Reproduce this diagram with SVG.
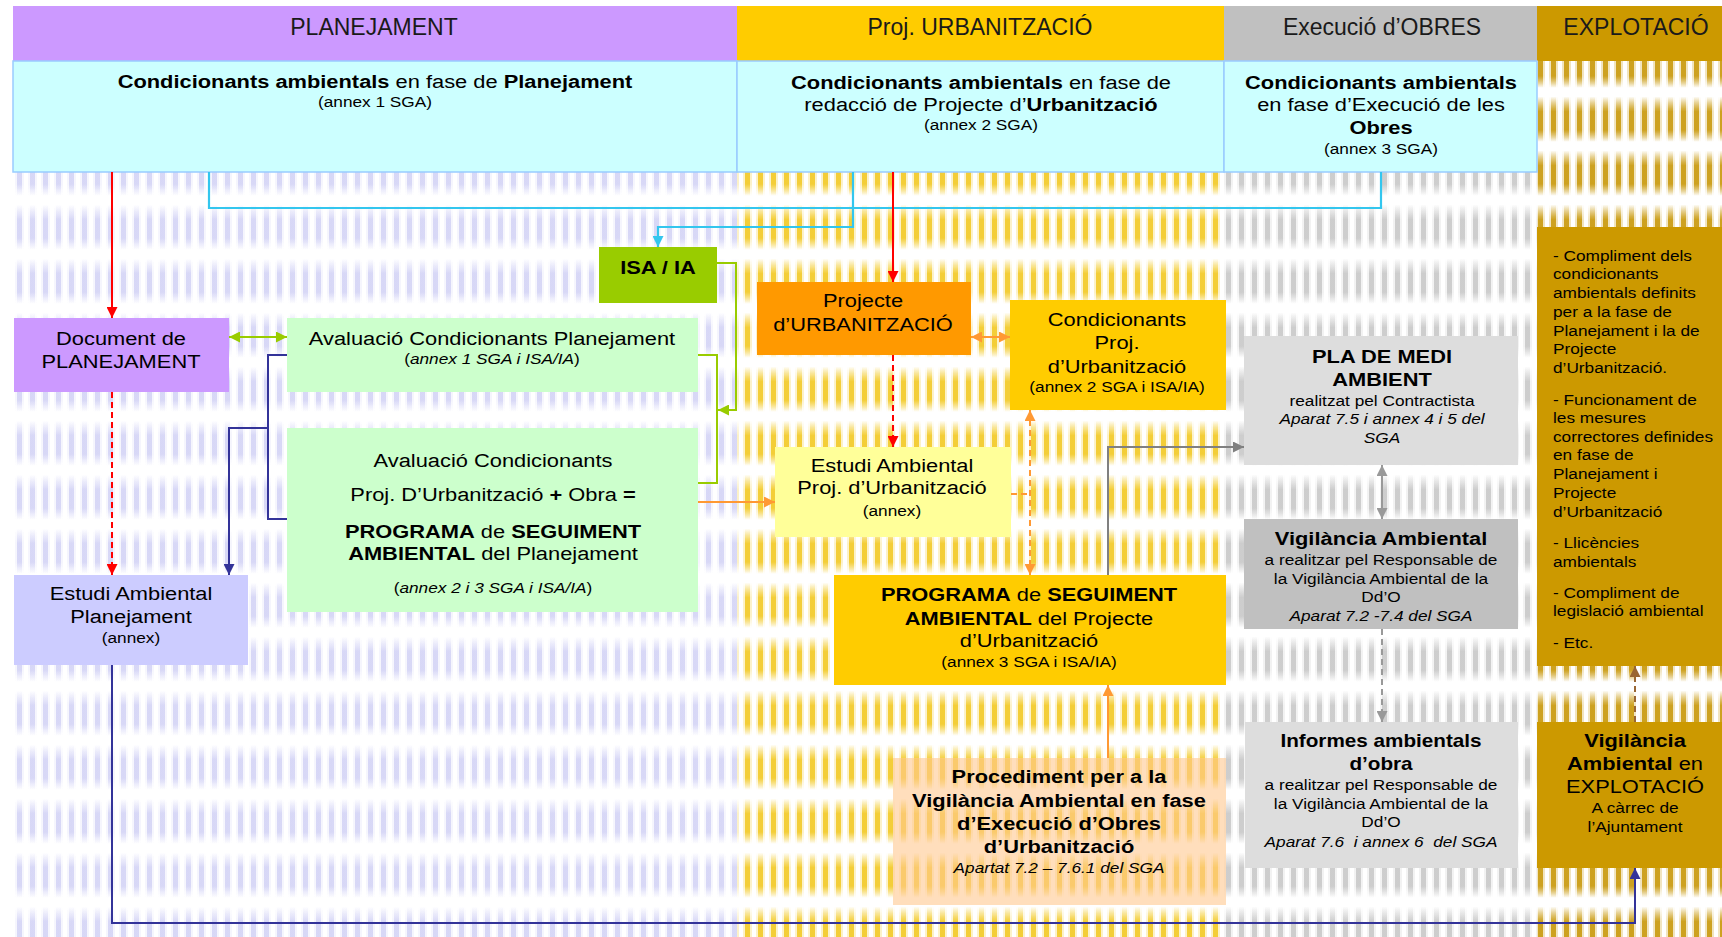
<svg xmlns="http://www.w3.org/2000/svg" width="1722" height="937" viewBox="0 0 1722 937">
<defs>
<style>
.t{font-family:"Liberation Sans",Arial,Helvetica,sans-serif;fill:#000}
.h{font-size:23px;text-anchor:middle;fill:#1a1a1a}
.m{text-anchor:middle}
.b{font-weight:bold}
.i{font-style:italic}
.f19{font-size:19px}
.f15{font-size:15px}
.lb{fill:#ccffff;stroke:#99ccff;stroke-width:1.5}
.ln{fill:none;stroke-width:2}
.red{stroke:#ff0000}
.cy{stroke:#33c6ee;stroke-width:2.2}
.gr{stroke:#99cc00}
.nv{stroke:#333399}
.or{stroke:#ff9933}
.gy{stroke:#808080}
.lg{stroke:#999999}
.br{stroke:#996633}
.dash{stroke-dasharray:6 4}
</style>
<linearGradient id="gLav" x1="0" y1="0" x2="0" y2="1"><stop offset="0.12" stop-color="#b0b0ee" stop-opacity="0"/><stop offset="0.4" stop-color="#b0b0ee" stop-opacity="0.42"/><stop offset="0.74" stop-color="#b0b0ee" stop-opacity="0.42"/><stop offset="0.96" stop-color="#b0b0ee" stop-opacity="0"/></linearGradient>
<linearGradient id="gYel" x1="0" y1="0" x2="0" y2="1"><stop offset="0.12" stop-color="#f0c000" stop-opacity="0"/><stop offset="0.4" stop-color="#f0c000" stop-opacity="0.72"/><stop offset="0.74" stop-color="#f0c000" stop-opacity="0.72"/><stop offset="0.96" stop-color="#f0c000" stop-opacity="0"/></linearGradient>
<linearGradient id="gGry" x1="0" y1="0" x2="0" y2="1"><stop offset="0.12" stop-color="#a8a8a8" stop-opacity="0"/><stop offset="0.4" stop-color="#a8a8a8" stop-opacity="0.5"/><stop offset="0.74" stop-color="#a8a8a8" stop-opacity="0.5"/><stop offset="0.96" stop-color="#a8a8a8" stop-opacity="0"/></linearGradient>
<linearGradient id="gGld" x1="0" y1="0" x2="0" y2="1"><stop offset="0.12" stop-color="#c8980a" stop-opacity="0"/><stop offset="0.4" stop-color="#c8980a" stop-opacity="0.88"/><stop offset="0.74" stop-color="#c8980a" stop-opacity="0.88"/><stop offset="0.96" stop-color="#c8980a" stop-opacity="0"/></linearGradient>
<pattern id="pLav" x="13" y="36" width="13" height="54" patternUnits="userSpaceOnUse"><rect x="2" y="0" width="9" height="54" fill="url(#gLav)" opacity="0.3"/><rect x="4" y="0" width="5" height="54" fill="url(#gLav)"/></pattern>
<pattern id="pYel" x="13" y="36" width="13" height="54" patternUnits="userSpaceOnUse"><rect x="2" y="0" width="9" height="54" fill="url(#gYel)" opacity="0.3"/><rect x="4" y="0" width="5" height="54" fill="url(#gYel)"/></pattern>
<pattern id="pGry" x="13" y="36" width="13" height="54" patternUnits="userSpaceOnUse"><rect x="2" y="0" width="9" height="54" fill="url(#gGry)" opacity="0.3"/><rect x="4" y="0" width="5" height="54" fill="url(#gGry)"/></pattern>
<pattern id="pGld" x="13" y="36" width="13" height="54" patternUnits="userSpaceOnUse"><rect x="2" y="0" width="9" height="54" fill="url(#gGld)" opacity="0.3"/><rect x="4" y="0" width="5" height="54" fill="url(#gGld)"/></pattern>
<marker id="aRed" viewBox="0 0 10 10" refX="10" refY="5" markerWidth="12" markerHeight="11" markerUnits="userSpaceOnUse" orient="auto-start-reverse"><path d="M0,0 L10,5 L0,10 z" fill="#ff0000"/></marker>
<marker id="aCy" viewBox="0 0 10 10" refX="10" refY="5" markerWidth="12" markerHeight="11" markerUnits="userSpaceOnUse" orient="auto-start-reverse"><path d="M0,0 L10,5 L0,10 z" fill="#33c6ee"/></marker>
<marker id="aGr" viewBox="0 0 10 10" refX="10" refY="5" markerWidth="12" markerHeight="11" markerUnits="userSpaceOnUse" orient="auto-start-reverse"><path d="M0,0 L10,5 L0,10 z" fill="#99cc00"/></marker>
<marker id="aNv" viewBox="0 0 10 10" refX="10" refY="5" markerWidth="12" markerHeight="11" markerUnits="userSpaceOnUse" orient="auto-start-reverse"><path d="M0,0 L10,5 L0,10 z" fill="#333399"/></marker>
<marker id="aOr" viewBox="0 0 10 10" refX="10" refY="5" markerWidth="12" markerHeight="11" markerUnits="userSpaceOnUse" orient="auto-start-reverse"><path d="M0,0 L10,5 L0,10 z" fill="#ff9933"/></marker>
<marker id="aGy" viewBox="0 0 10 10" refX="10" refY="5" markerWidth="12" markerHeight="11" markerUnits="userSpaceOnUse" orient="auto-start-reverse"><path d="M0,0 L10,5 L0,10 z" fill="#808080"/></marker>
<marker id="aLg" viewBox="0 0 10 10" refX="10" refY="5" markerWidth="12" markerHeight="11" markerUnits="userSpaceOnUse" orient="auto-start-reverse"><path d="M0,0 L10,5 L0,10 z" fill="#999999"/></marker>
<marker id="aBr" viewBox="0 0 10 10" refX="10" refY="5" markerWidth="12" markerHeight="11" markerUnits="userSpaceOnUse" orient="auto-start-reverse"><path d="M0,0 L10,5 L0,10 z" fill="#996633"/></marker>
</defs>

<rect x="0" y="0" width="1722" height="937" fill="#ffffff"/>
<g id="background">
<rect x="13" y="61" width="724" height="876" fill="url(#pLav)"/>
<rect x="737" y="61" width="487" height="876" fill="url(#pYel)"/>
<rect x="1224" y="61" width="313" height="876" fill="url(#pGry)"/>
<rect x="1537" y="61" width="185" height="876" fill="url(#pGld)"/>
</g>

<g id="headers">
<rect x="13" y="6" width="724" height="55" fill="#cc99ff"/>
<rect x="737" y="6" width="487" height="55" fill="#ffcc00"/>
<rect x="1224" y="6" width="313" height="55" fill="#c0c0c0"/>
<rect x="1537" y="6" width="185" height="55" fill="#cc9900"/>
<text class="t h" x="374" y="35">PLANEJAMENT</text>
<text class="t h" x="980" y="35">Proj. URBANITZACIÓ</text>
<text class="t h" x="1382" y="35">Execució d’OBRES</text>
<text class="t h" x="1636" y="35">EXPLOTACIÓ</text>
</g>

<g id="cond-plan">
<rect class="lb" x="13" y="61" width="724" height="111"/>
<text class="t m" transform="matrix(1.15 0 0 1 375 0)"><tspan class="f19" x="0" y="88"><tspan class="b">Condicionants ambientals</tspan> en fase de <tspan class="b">Planejament</tspan></tspan><tspan class="f15" x="0" y="107">(annex 1 SGA)</tspan></text>
</g>
<g id="cond-urb">
<rect class="lb" x="737" y="61" width="487" height="111"/>
<text class="t m" transform="matrix(1.15 0 0 1 981 0)"><tspan class="f19" x="0" y="89"><tspan class="b">Condicionants ambientals</tspan> en fase de</tspan><tspan class="f19" x="0" y="111">redacció de Projecte d’<tspan class="b">Urbanització</tspan></tspan><tspan class="f15" x="0" y="130">(annex 2 SGA)</tspan></text>
</g>
<g id="cond-obres">
<rect class="lb" x="1224" y="61" width="313" height="111"/>
<text class="t m" transform="matrix(1.15 0 0 1 1381 0)"><tspan class="f19 b" x="0" y="89">Condicionants ambientals</tspan><tspan class="f19" x="0" y="111">en fase d’Execució de les</tspan><tspan class="f19 b" x="0" y="134">Obres</tspan><tspan class="f15" x="0" y="154">(annex 3 SGA)</tspan></text>
</g>

<g id="connectors">
<polyline class="ln cy" points="209,172 209,208 1381,208 1381,172"/>
<polyline class="ln cy" points="853,172 853,227 658,227 658,247" marker-end="url(#aCy)"/>
<line class="ln red" x1="112" y1="172" x2="112" y2="318" marker-end="url(#aRed)"/>
<line class="ln red dash" x1="112" y1="392" x2="112" y2="575" marker-end="url(#aRed)"/>
<line class="ln red" x1="893" y1="172" x2="893" y2="282" marker-end="url(#aRed)"/>
<line class="ln red dash" x1="893" y1="355" x2="893" y2="447" marker-end="url(#aRed)"/>
<line class="ln gr" x1="229" y1="337" x2="287" y2="337" marker-start="url(#aGr)" marker-end="url(#aGr)"/>
<polyline class="ln gr" points="698,355 717,355 717,483 698,483"/>
<polyline class="ln gr" points="717,263 736,263 736,410 718,410" marker-end="url(#aGr)"/>
<polyline class="ln nv" points="287,355 268,355 268,519 287,519"/>
<polyline class="ln nv" points="268,428 229,428 229,575" marker-end="url(#aNv)"/>
<polyline class="ln nv" points="112,665 112,923 1635,923 1635,868" marker-end="url(#aNv)"/>
<line class="ln or" x1="698" y1="502" x2="775" y2="502" marker-end="url(#aOr)"/>
<line class="ln or" x1="971" y1="337" x2="1010" y2="337" marker-start="url(#aOr)" marker-end="url(#aOr)"/>
<line class="ln or dash" x1="1030" y1="410" x2="1030" y2="575" marker-start="url(#aOr)" marker-end="url(#aOr)"/>
<line class="ln or dash" x1="1011" y1="494" x2="1030" y2="494"/>
<line class="ln or" x1="1108" y1="758" x2="1108" y2="685" marker-end="url(#aOr)"/>
<polyline class="ln gy" points="1108,575 1108,447 1244,447" marker-end="url(#aGy)"/>
<line class="ln lg" x1="1382" y1="465" x2="1382" y2="519" marker-start="url(#aLg)" marker-end="url(#aLg)"/>
<line class="ln lg dash" x1="1382" y1="629" x2="1382" y2="722" marker-end="url(#aLg)"/>
<line class="ln br dash" x1="1635" y1="722" x2="1635" y2="666" marker-end="url(#aBr)"/>
</g>

<g id="isa">
<rect x="599" y="247" width="118" height="56" fill="#99cc00"/>
<text class="t m b f19" transform="matrix(1.15 0 0 1 658 0)" x="0" y="274">ISA / IA</text>
</g>
<g id="doc-plan">
<rect x="14" y="318" width="215" height="74" fill="#cc99ff"/>
<text class="t m f19" transform="matrix(1.15 0 0 1 121 0)"><tspan x="0" y="345">Document de</tspan><tspan x="0" y="368">PLANEJAMENT</tspan></text>
</g>
<g id="aval-plan">
<rect x="287" y="318" width="411" height="74" fill="#ccffcc"/>
<text class="t m" transform="matrix(1.15 0 0 1 492 0)"><tspan class="f19" x="0" y="345">Avaluació Condicionants Planejament</tspan><tspan class="f15" x="0" y="364">(<tspan class="i">annex 1 SGA i ISA/IA</tspan>)</tspan></text>
</g>
<g id="aval-urb">
<rect x="287" y="428" width="411" height="184" fill="#ccffcc"/>
<text class="t m" transform="matrix(1.15 0 0 1 493 0)"><tspan class="f19" x="0" y="467">Avaluació Condicionants</tspan><tspan class="f19" x="0" y="501">Proj. D’Urbanització <tspan class="b">+</tspan> Obra <tspan class="b">=</tspan></tspan><tspan class="f19" x="0" y="538"><tspan class="b">PROGRAMA</tspan> de <tspan class="b">SEGUIMENT</tspan></tspan><tspan class="f19" x="0" y="560"><tspan class="b">AMBIENTAL</tspan> del Planejament</tspan><tspan class="f15" x="0" y="593">(<tspan class="i">annex 2 i 3 SGA i ISA/IA</tspan>)</tspan></text>
</g>
<g id="estudi-plan">
<rect x="14" y="575" width="234" height="90" fill="#ccccff"/>
<text class="t m" transform="matrix(1.15 0 0 1 131 0)"><tspan class="f19" x="0" y="600">Estudi Ambiental</tspan><tspan class="f19" x="0" y="623">Planejament</tspan><tspan class="f15" x="0" y="643">(annex)</tspan></text>
</g>
<g id="proj-urb">
<rect x="757" y="282" width="214" height="73" fill="#ff9900"/>
<text class="t m f19" transform="matrix(1.15 0 0 1 863 0)"><tspan x="0" y="307">Projecte</tspan><tspan x="0" y="331">d’URBANITZACIÓ</tspan></text>
</g>
<g id="cond-proj">
<rect x="1010" y="300" width="216" height="110" fill="#ffcc00"/>
<text class="t m" transform="matrix(1.15 0 0 1 1117 0)"><tspan class="f19" x="0" y="326">Condicionants</tspan><tspan class="f19" x="0" y="349">Proj.</tspan><tspan class="f19" x="0" y="373">d’Urbanització</tspan><tspan class="f15" x="0" y="392">(annex 2 SGA i ISA/IA)</tspan></text>
</g>
<g id="estudi-proj">
<rect x="775" y="447" width="236" height="90" fill="#ffff99"/>
<text class="t m" transform="matrix(1.15 0 0 1 892 0)"><tspan class="f19" x="0" y="472">Estudi Ambiental</tspan><tspan class="f19" x="0" y="494">Proj. d’Urbanització</tspan><tspan class="f15" x="0" y="516">(annex)</tspan></text>
</g>
<g id="psa-urb">
<rect x="834" y="575" width="392" height="110" fill="#ffcc00"/>
<text class="t m" transform="matrix(1.15 0 0 1 1029 0)"><tspan class="f19" x="0" y="601"><tspan class="b">PROGRAMA</tspan> de <tspan class="b">SEGUIMENT</tspan></tspan><tspan class="f19" x="0" y="625"><tspan class="b">AMBIENTAL</tspan> del Projecte</tspan><tspan class="f19" x="0" y="647">d’Urbanització</tspan><tspan class="f15" x="0" y="667">(annex 3 SGA i ISA/IA)</tspan></text>
</g>
<g id="procediment">
<rect x="893" y="758" width="333" height="147" fill="#ffc890" fill-opacity="0.6"/>
<text class="t m" transform="matrix(1.15 0 0 1 1059 0)"><tspan class="f19 b" x="0" y="783">Procediment per a la</tspan><tspan class="f19 b" x="0" y="807">Vigilància Ambiental en fase</tspan><tspan class="f19 b" x="0" y="830">d’Execució d’Obres</tspan><tspan class="f19 b" x="0" y="853">d’Urbanització</tspan><tspan class="f15 i" x="0" y="873">Apartat 7.2 – 7.6.1 del SGA</tspan></text>
</g>
<g id="pla-medi">
<rect x="1244" y="336" width="274" height="129" fill="#dddddd"/>
<text class="t m" transform="matrix(1.15 0 0 1 1382 0)"><tspan class="f19 b" x="0" y="363">PLA DE MEDI</tspan><tspan class="f19 b" x="0" y="386">AMBIENT</tspan><tspan class="f15" x="0" y="406">realitzat pel Contractista</tspan><tspan class="f15 i" x="0" y="424">Aparat 7.5 i annex 4 i 5 del</tspan><tspan class="f15 i" x="0" y="443">SGA</tspan></text>
</g>
<g id="vigilancia">
<rect x="1244" y="519" width="274" height="110" fill="#c0c0c0"/>
<text class="t m" transform="matrix(1.15 0 0 1 1381 0)"><tspan class="f19 b" x="0" y="545">Vigilància Ambiental</tspan><tspan class="f15" x="0" y="565">a realitzar pel Responsable de</tspan><tspan class="f15" x="0" y="584">la Vigilància Ambiental de la</tspan><tspan class="f15" x="0" y="602">Dd’O</tspan><tspan class="f15 i" x="0" y="621">Aparat 7.2 -7.4 del SGA</tspan></text>
</g>
<g id="informes">
<rect x="1245" y="722" width="273" height="146" fill="#dddddd"/>
<text class="t m" transform="matrix(1.15 0 0 1 1381 0)"><tspan class="b" style="font-size:18px" x="0" y="747">Informes ambientals</tspan><tspan class="b" style="font-size:18px" x="0" y="770">d’obra</tspan><tspan class="f15" x="0" y="790">a realitzar pel Responsable de</tspan><tspan class="f15" x="0" y="809">la Vigilància Ambiental de la</tspan><tspan class="f15" x="0" y="827">Dd’O</tspan><tspan class="f15 i" x="0" y="847">Aparat 7.6&#160; i annex 6&#160; del SGA</tspan></text>
</g>
<g id="expl-list">
<rect x="1537" y="227" width="185" height="439" fill="#cc9900"/>
<text class="t f15" transform="matrix(1.15 0 0 1 1553 0)"><tspan x="0" y="261">- Compliment dels</tspan><tspan x="0" y="279">condicionants</tspan><tspan x="0" y="298">ambientals definits</tspan><tspan x="0" y="317">per a la fase de</tspan><tspan x="0" y="336">Planejament i la de</tspan><tspan x="0" y="354">Projecte</tspan><tspan x="0" y="373">d’Urbanització.</tspan><tspan x="0" y="405">- Funcionament de</tspan><tspan x="0" y="423">les mesures</tspan><tspan x="0" y="442">correctores definides</tspan><tspan x="0" y="460">en fase de</tspan><tspan x="0" y="479">Planejament i</tspan><tspan x="0" y="498">Projecte</tspan><tspan x="0" y="517">d’Urbanització</tspan><tspan x="0" y="548">- Llicències</tspan><tspan x="0" y="567">ambientals</tspan><tspan x="0" y="598">- Compliment de</tspan><tspan x="0" y="616">legislació ambiental</tspan><tspan x="0" y="648">- Etc.</tspan></text>
</g>
<g id="vigil-expl">
<rect x="1537" y="722" width="185" height="146" fill="#cc9900"/>
<text class="t m" transform="matrix(1.15 0 0 1 1635 0)"><tspan class="f19 b" x="0" y="747">Vigilància</tspan><tspan class="f19" x="0" y="770"><tspan class="b">Ambiental</tspan> en</tspan><tspan class="f19" x="0" y="793">EXPLOTACIÓ</tspan><tspan class="f15" x="0" y="813">A càrrec de</tspan><tspan class="f15" x="0" y="832">l’Ajuntament</tspan></text>
</g>
</svg>
